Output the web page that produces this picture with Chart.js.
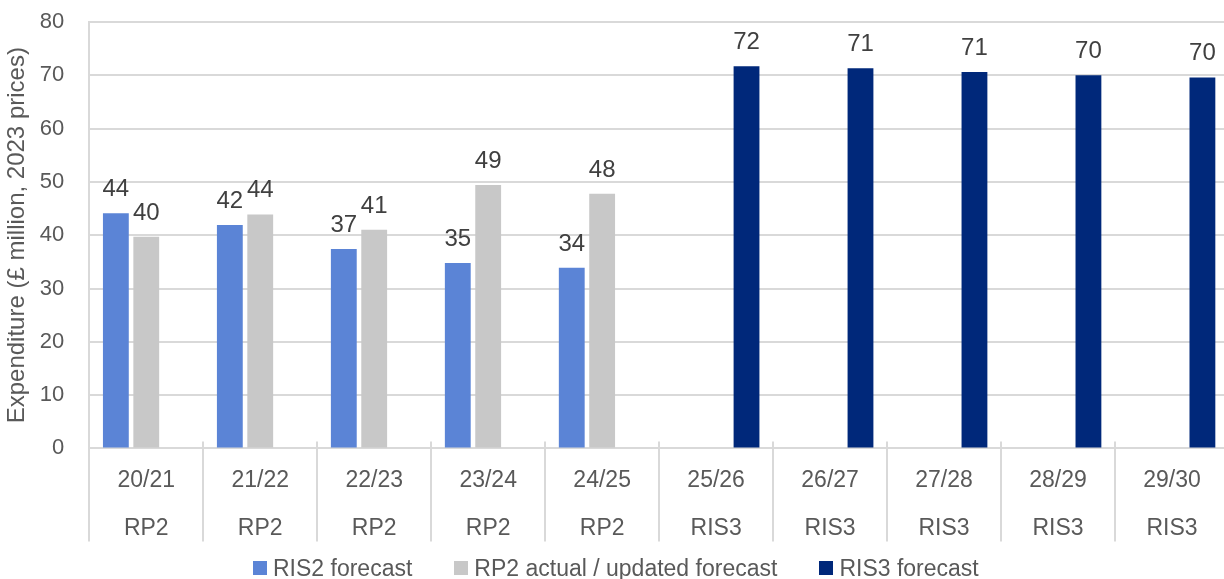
<!DOCTYPE html>
<html>
<head>
<meta charset="utf-8">
<script src="https://cdn.jsdelivr.net/npm/chart.js@4"></script>
<style>
  html, body { margin: 0; padding: 0; background: #fff; overflow: hidden; }
  #wrap { position: relative; width: 1224px; height: 579px; overflow: hidden; }
  #chart { position: absolute; left: 0; top: 0; }
  #legend {
    position: absolute; left: 253px; top: 555px; height: 26px;
    display: flex; align-items: center; gap: 42px;
    font-family: "Liberation Sans", Arial, sans-serif; font-size: 23px; color: #595959;
  }
  #legend .item { display: flex; align-items: center; white-space: nowrap; }
  #legend .box { width: 14px; height: 14px; margin-right: 6px; }
</style>
</head>
<body>
<div id="wrap">
  <canvas id="chart" width="1232" height="556"></canvas>
  <div id="legend"></div>
</div>
<script>
const years = ['20/21', '21/22', '22/23', '23/24', '24/25', '25/26', '26/27', '27/28', '28/29', '29/30'];
const periods = ['RP2', 'RP2', 'RP2', 'RP2', 'RP2', 'RIS3', 'RIS3', 'RIS3', 'RIS3', 'RIS3'];

// £ million, 2023 prices
const ris2Forecast = [44.1, 41.9, 37.4, 34.8, 33.9, null, null, null, null, null];
const rp2Actual = [39.7, 43.9, 41.0, 49.4, 47.8, null, null, null, null, null];
const ris3Forecast = [null, null, null, null, null, 71.7, 71.3, 70.6, 70.0, 69.6];

const yTicks = [0, 10, 20, 30, 40, 50, 60, 70, 80];

const FONT = '"Liberation Sans", Arial, sans-serif';
const gridGrey = '#d9d9d9';

// value labels above each bar
const barLabels = {
    id: 'barLabels',
    afterDatasetsDraw(chart) {
        const ctx = chart.ctx;
        ctx.save();
        ctx.font = '24px ' + FONT;
        ctx.fillStyle = '#404040';
        ctx.textAlign = 'center';
        ctx.textBaseline = 'alphabetic';
        chart.data.datasets.forEach((ds, i) => {
            chart.getDatasetMeta(i).data.forEach((bar, j) => {
                const v = ds.data[j];
                if (v === null) return;
                ctx.fillText(Math.round(v), bar.x, bar.y - 17);
            });
        });
        ctx.restore();
    }
};

// vertical dividers between the category labels
const categoryDividers = {
    id: 'categoryDividers',
    afterDraw(chart) {
        const ctx = chart.ctx;
        const area = chart.chartArea;
        const n = chart.data.labels.length;
        const step = area.width / n;
        ctx.save();
        ctx.strokeStyle = gridGrey;
        ctx.lineWidth = 2;
        ctx.beginPath();
        for (let i = 0; i <= n; i++) {
            const x = Math.round(area.left + i * step);
            ctx.moveTo(x, area.bottom - 7);
            ctx.lineTo(x, area.bottom + 93);
        }
        ctx.stroke();
        ctx.restore();
    }
};

const chart = new Chart(document.getElementById('chart'), {
    type: 'bar',
    data: {
        labels: years.map((y, i) => [y, periods[i]]),
        datasets: [
            { label: 'RIS2 forecast', data: ris2Forecast, backgroundColor: '#5b84d6' },
            { label: 'RP2 actual / updated forecast', data: rp2Actual, backgroundColor: '#c8c8c8' },
            { label: 'RIS3 forecast', data: ris3Forecast, backgroundColor: '#00287a' }
        ]
    },
    options: {
        responsive: false,
        animation: false,
        devicePixelRatio: 1,
        layout: { padding: { top: 22, right: 3, bottom: 3, left: 0 } },
        datasets: { bar: { categoryPercentage: 0.8, barPercentage: 0.85 } },
        plugins: {
            legend: { display: false },
            tooltip: { enabled: false }
        },
        scales: {
            x: {
                grid: { display: false },
                border: { display: false },
                ticks: {
                    color: '#595959',
                    font: { family: FONT, size: 23, lineHeight: 2.1 },
                    padding: 0,
                    maxRotation: 0,
                    autoSkip: false
                }
            },
            y: {
                min: 0,
                max: 80,
                afterBuildTicks(scale) {
                    scale.ticks = yTicks.map(v => ({ value: v }));
                },
                // tick padding is meant to be horizontal only
                afterFit(scale) {
                    scale.paddingTop = 0;
                    scale.paddingBottom = 0;
                },
                grid: { color: gridGrey, lineWidth: 2, drawTicks: false },
                border: { color: gridGrey, width: 2 },
                ticks: {
                    color: '#595959',
                    font: { family: FONT, size: 22 },
                    padding: 25
                },
                title: {
                    display: true,
                    text: 'Expenditure (£ million, 2023 prices)',
                    color: '#595959',
                    font: { family: FONT, size: 24 },
                    padding: { top: 3, bottom: -17 }
                }
            }
        }
    },
    plugins: [barLabels, categoryDividers]
});

// legend row built from the datasets
const legend = document.getElementById('legend');
chart.data.datasets.forEach(ds => {
    const item = document.createElement('div');
    item.className = 'item';
    item.innerHTML = `<span class="box" style="background:${ds.backgroundColor}"></span>${ds.label}`;
    legend.appendChild(item);
});
</script>
</body>
</html>
